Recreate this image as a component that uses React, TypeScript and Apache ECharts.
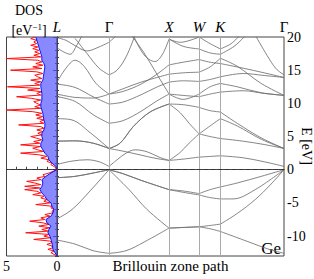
import React, { useEffect, useRef } from "react";
import * as echarts from "echarts";

// High-symmetry path (k distance) and labels
const kNodes = [0, 0.866, 1.866, 2.366, 2.72, 3.78];
const kNames = ["L", "Γ", "X", "W", "K", "Γ"];
const kItalic = [true, false, true, true, true, false];
const energyLabels = [-10, -5, 0, 5, 10, 15, 20];
const energyMin = -13;
const energyMax = 20;
const dosLabels = [0, 5];

// Bands: [k, E(eV)]
const valence1 = [[0, -10.6], [0.3, -11.2], [0.6, -12.2], [0.866, -12.6], [1.15, -12.2], [1.45, -10.9], [1.866, -8.8], [2.1, -8.7], [2.366, -8.6], [2.55, -8.9], [2.72, -9.3], [3.2, -10.9], [3.5, -11.9], [3.78, -12.6]];
const valence2 = [[0, -7.4], [0.25, -6.0], [0.55, -3.2], [0.866, 0], [1.2, -3.0], [1.5, -6.0], [1.866, -8.8], [2.1, -8.7], [2.366, -8.6], [2.55, -8.4], [2.72, -8.2], [3.0, -6.6], [3.3, -4.5], [3.55, -2.3], [3.78, 0]];
const valence3 = [[0, -1.2], [0.3, -1.0], [0.6, -0.5], [0.866, 0], [1.1, -0.6], [1.4, -1.6], [1.866, -3.0], [2.1, -3.4], [2.366, -3.8], [2.55, -4.2], [2.72, -4.4], [2.93, -4.4], [3.3, -3.0], [3.78, 0]];
const valence4 = [[0, -1.2], [0.3, -1.0], [0.6, -0.5], [0.866, 0], [1.1, -0.6], [1.4, -1.6], [1.866, -3.0], [2.1, -3.2], [2.366, -3.6], [2.55, -3.0], [2.72, -2.6], [3.0, -2.0], [3.4, -1.0], [3.78, 0]];
const conduction1 = [[0, 0.8], [0.25, 1.3], [0.5, 1.5], [0.7, 1.2], [0.866, 0.5], [1.0, 1.5], [1.15, 2.5], [1.3, 3.0], [1.5, 2.7], [1.7, 1.9], [1.866, 1.4], [2.1, 1.6], [2.366, 1.9], [2.72, 2.1], [3.1, 1.8], [3.45, 1.2], [3.78, 0.5]];
const conduction2 = [[0, 4.3], [0.3, 4.35], [0.6, 4.0], [0.866, 3.2], [1.1, 2.8], [1.4, 2.2], [1.65, 1.7], [1.866, 1.4], [2.05, 2.6], [2.2, 4.0], [2.366, 5.4], [2.55, 5.0], [2.72, 4.7], [3.1, 4.3], [3.45, 3.8], [3.78, 3.2]];
const conduction3 = [[0, 4.3], [0.3, 4.35], [0.6, 4.0], [0.866, 3.2], [1.05, 4.0], [1.27, 6.5], [1.55, 8.7], [1.866, 9.9], [2.05, 8.6], [2.2, 7.0], [2.366, 5.4], [2.55, 6.6], [2.72, 7.7], [3.0, 6.6], [3.4, 4.6], [3.78, 3.2]];
const conduction4 = [[0, 7.7], [0.25, 7.5], [0.55, 5.6], [0.866, 3.2], [1.05, 4.0], [1.27, 6.5], [1.55, 8.7], [1.866, 9.9], [2.1, 9.8], [2.366, 9.4], [2.55, 8.9], [2.72, 8.7], [3.0, 7.0], [3.4, 4.8], [3.78, 3.2]];
const conduction5 = [[0, 11.0], [0.3, 10.3], [0.6, 8.3], [0.866, 7.0], [1.1, 7.4], [1.4, 8.8], [1.65, 10.3], [1.866, 11.4], [2.1, 11.2], [2.366, 11.0], [2.55, 11.4], [2.72, 11.7], [3.1, 11.9], [3.45, 11.5], [3.78, 11.2]];
const conduction6 = [[0, 12.9], [0.3, 12.4], [0.6, 11.0], [0.866, 9.9], [1.1, 10.2], [1.4, 11.3], [1.65, 12.4], [1.866, 13.2], [2.1, 13.4], [2.366, 13.3], [2.55, 13.6], [2.72, 14.0], [3.1, 14.5], [3.45, 14.2], [3.78, 13.9]];
const conduction7 = [[0, 13.2], [0.15, 15.3], [0.3, 16.5], [0.45, 15.6], [0.65, 13.0], [0.866, 11.4], [1.1, 11.8], [1.4, 12.9], [1.65, 14.3], [1.866, 15.8], [2.1, 16.2], [2.366, 16.6], [2.55, 16.2], [2.72, 16.0], [3.1, 15.3], [3.45, 14.6], [3.78, 13.9]];
const conduction8 = [[0, 11.4], [0.3, 10.9], [0.6, 10.8], [0.866, 11.4], [1.1, 12.2], [1.4, 13.2], [1.866, 14.4], [2.1, 14.6], [2.366, 14.7], [2.55, 15.5], [2.72, 16.8], [3.0, 15.6], [3.4, 13.0], [3.78, 11.2]];
const conduction9 = [[0.3, 19.8], [0.5, 17.5], [0.7, 15.3], [0.866, 14.3], [1.0, 15.0], [1.15, 17.0], [1.3, 20.3], [3.3, 20.3], [3.5, 17.2], [3.65, 15.2], [3.78, 14.3]];
const conduction10 = [[1.27, 20.3], [1.45, 17.3], [1.63, 16.3], [1.75, 17.3], [1.866, 19.7], [2.1, 18.6], [2.366, 18.2], [2.55, 17.6], [2.72, 17.4], [2.95, 18.6], [3.15, 20.3]];
const conduction11 = [[1.22, 20.5], [1.45, 17.6], [1.65, 14.6], [1.866, 11.4], [2.1, 10.6], [2.366, 11.4], [2.55, 12.5], [2.72, 13.0], [3.0, 12.5], [3.4, 11.6], [3.78, 11.2]];
const conduction12 = [[0, 18.4], [0.1, 17.8], [0.22, 17.4], [0.32, 18.6], [0.42, 20.3]];
const conduction13 = [[0, 19.9], [0.15, 19.5], [0.3, 18.7], [0.5, 17.9], [0.7, 18.5], [0.866, 19.2], [1.0, 20.3]];
const conduction14 = [[1.866, 19.7], [2.05, 19.2], [2.366, 20.0], [2.55, 19.0], [2.72, 18.2], [2.9, 19.0], [3.05, 20.3]];

const bands = [
  valence1, valence2, valence3, valence4,
  conduction1, conduction2, conduction3, conduction4, conduction5, conduction6, conduction7,
  conduction8, conduction9, conduction10, conduction11, conduction12, conduction13, conduction14,
];

// Smoothed DOS (blue): [E, DOS]
const dosBlue = [
  [-13.0, 0], [-12.5, 0.2], [-12.0, 0.4], [-11.5, 0.45], [-11.0, 0.5], [-10.5, 0.6], [-10.0, 0.7], [-9.5, 0.9],
  [-9.0, 0.8], [-8.5, 0.6], [-8.0, 1.0], [-7.5, 1.1], [-7.0, 0.6], [-6.5, 0.4], [-6.0, 0.3], [-5.5, 0.5],
  [-5.0, 0.6], [-4.5, 1.0], [-4.0, 1.2], [-3.5, 1.5], [-3.0, 1.7], [-2.5, 1.5], [-2.0, 1.4], [-1.5, 1.5],
  [-1.0, 1.1], [-0.5, 0.6], [0.0, 0.05], [0.5, 0.1], [1.0, 0.5], [1.5, 0.8], [2.0, 0.9], [2.5, 1.2],
  [3.0, 1.4], [3.5, 1.6], [4.0, 1.6], [4.5, 1.4], [5.0, 1.5], [5.5, 1.5], [6.0, 1.3], [6.5, 1.2],
  [7.0, 1.2], [7.5, 1.3], [8.0, 1.35], [8.5, 1.4], [9.0, 1.5], [9.5, 1.6], [10.0, 1.6], [10.5, 1.5],
  [11.0, 1.5], [11.5, 1.5], [12.0, 1.55], [12.5, 1.6], [13.0, 1.6], [13.5, 1.4], [14.0, 1.35], [14.5, 1.3],
  [15.0, 1.25], [15.5, 1.2], [16.0, 1.3], [16.5, 1.5], [17.0, 1.5], [17.5, 1.6], [18.0, 1.7], [18.5, 1.8],
  [19.0, 1.9], [19.5, 2.0], [20.0, 2.1],
];

// Raw DOS (red), one value every 0.25 eV from -13 eV
const dosRedStart = -13;
const dosRedStep = 0.25;
const dosRed = [
  0, 0.3, 0.6, 0.3,
  0.9, 0.4, 0.5, 1.0,
  0.5, 0.7, 2.3, 0.6,
  1.3, 0.8, 3.1, 0.9,
  1.5, 0.7, 1.8, 0.8,
  1.4, 2.7, 1.2, 1.6,
  0.7, 1.2, 0.4, 0.5,
  0.3, 0.6, 0.5, 2.1,
  0.7, 1.3, 1.0, 1.6,
  1.3, 2.4, 1.6, 2.0,
  3.2, 1.7, 3.2, 1.6,
  2.2, 3.0, 1.6, 2.0,
  1.2, 1.4, 0.8, 0.4,
  0.05, 0.1, 0.3, 0.6,
  0.5, 1.0, 0.8, 1.6,
  1.0, 1.8, 3.6, 1.3,
  1.9, 2.4, 1.6, 3.6,
  1.7, 2.3, 1.5, 2.0,
  2.6, 1.5, 1.9, 1.4,
  2.0, 1.3, 1.6, 3.8,
  1.3, 1.7, 1.3, 2.0,
  1.4, 2.1, 1.5, 2.4,
  5.0, 1.6, 2.2, 1.6,
  2.0, 2.3, 1.6, 2.5,
  4.0, 1.6, 2.0, 1.5,
  2.9, 1.7, 4.9, 1.7,
  2.2, 1.6, 2.6, 1.5,
  1.9, 2.2, 1.4, 2.0,
  4.6, 1.5, 2.4, 1.4,
  2.1, 1.5, 1.9, 5.0,
  1.6, 2.3, 1.7, 2.2,
  1.8, 2.4, 1.9, 2.6,
  2.0, 2.3, 2.0, 2.6,
  2.2,
];

const SERIF = "'Liberation Serif', 'DejaVu Serif', 'Times New Roman', Times, serif";

export default function App() {
  const ref = useRef<HTMLDivElement>(null);
  useEffect(() => {
    if (!ref.current) return;
    const chart = echarts.init(ref.current, null, { renderer: "svg" });
    const frame = "#444";

    const bandSeries: any[] = [];
    bands.forEach((band) => {
      for (let s = 0; s < kNodes.length - 1; s++) {
        const a = kNodes[s];
        const b = kNodes[s + 1];
        const pts = band.filter((p) => p[0] >= a - 1e-9 && p[0] <= b + 1e-9);
        if (pts.length < 2) continue;
        bandSeries.push({
          type: "line",
          xAxisIndex: 1,
          yAxisIndex: 1,
          data: pts,
          smooth: 0.35,
          symbol: "none",
          showSymbol: false,
          silent: true,
          lineStyle: { color: "#6f6f6f", width: 0.85 },
          z: 3,
        });
      }
    });

    const redData = dosRed.map((v, i) => [v, dosRedStart + i * dosRedStep]);
    const blueData = dosBlue.map((p) => [p[1], p[0]]);
    const txt = { fontFamily: SERIF, fontSize: 14, color: "#000" };

    const option: any = {
      animation: false,
      textStyle: { fontFamily: SERIF },
      grid: [
        { left: 0, top: 37, width: 57, height: 219, show: true, borderColor: frame, borderWidth: 1, backgroundColor: "transparent" },
        { left: 57, top: 37, width: 227, height: 219, show: true, borderColor: frame, borderWidth: 1, backgroundColor: "transparent" },
      ],
      xAxis: [
        {
          type: "value", gridIndex: 0, min: 0, max: 5, interval: 1, inverse: true, position: "bottom",
          axisLine: { show: true, lineStyle: { color: frame } },
          axisTick: { show: true, inside: true, length: 3, lineStyle: { color: frame } },
          axisLabel: { show: true, customValues: dosLabels, ...txt, margin: 3, showMinLabel: true, showMaxLabel: true },
          splitLine: { show: false },
        },
        {
          type: "value", gridIndex: 1, min: 0, max: 3.78, position: "top",
          axisLine: { show: true, lineStyle: { color: frame } },
          axisTick: { show: false },
          axisLabel: {
            show: true, customValues: kNodes, margin: 3, showMinLabel: true, showMaxLabel: true, ...txt,
            formatter: (v: number) => {
              const i = kNodes.findIndex((k) => Math.abs(k - v) < 1e-6);
              if (i < 0) return "";
              return kItalic[i] ? `{i|${kNames[i]}}` : `{u|${kNames[i]}}`;
            },
            rich: {
              i: { fontFamily: SERIF, fontSize: 15, fontStyle: "italic", color: "#000" },
              u: { fontFamily: SERIF, fontSize: 15, color: "#000" },
            },
          },
          splitLine: { show: false },
        },
        {
          type: "value", gridIndex: 1, min: 0, max: 3.78, position: "bottom",
          axisLine: { show: true, lineStyle: { color: frame } },
          axisTick: { show: false }, axisLabel: { show: false }, splitLine: { show: false },
          name: "Brillouin zone path", nameLocation: "middle", nameGap: 2,
          nameTextStyle: { fontFamily: SERIF, fontSize: 15, color: "#000", verticalAlign: "top" },
        },
      ],
      yAxis: [
        {
          type: "value", gridIndex: 0, min: energyMin, max: energyMax, interval: 1, position: "left",
          axisLine: { show: true, lineStyle: { color: frame } },
          axisTick: { show: true, inside: true, length: 2, lineStyle: { color: frame } },
          axisLabel: { show: false }, splitLine: { show: false },
        },
        {
          type: "value", gridIndex: 1, min: energyMin, max: energyMax, interval: 1, position: "right",
          axisLine: { show: true, lineStyle: { color: frame } },
          axisTick: { show: true, inside: true, length: 2, lineStyle: { color: frame } },
          axisLabel: { show: false }, splitLine: { show: false },
        },
        {
          type: "value", gridIndex: 1, min: energyMin, max: energyMax, position: "right",
          axisLine: { show: false },
          axisTick: { show: true, inside: true, length: 4, customValues: energyLabels, lineStyle: { color: frame } },
          axisLabel: { show: true, customValues: energyLabels, ...txt, margin: 3, showMinLabel: true, showMaxLabel: true },
          splitLine: { show: false },
        },
      ],
      graphic: [
        { type: "text", x: 29, y: 10, style: { text: "DOS", fontFamily: SERIF, fontSize: 14, fill: "#000", textAlign: "center", textVerticalAlign: "middle" } },
        {
          type: "text", x: 29, y: 30,
          style: {
            text: "[eV{sup|−1}]", fontFamily: SERIF, fontSize: 14, fill: "#000", textAlign: "center", textVerticalAlign: "middle",
            rich: { sup: { fontFamily: SERIF, fontSize: 9, verticalAlign: "top", padding: [0, 0, 6, 0] } },
          },
        },
        { type: "text", x: 306, y: 146, rotation: -Math.PI / 2, style: { text: "E [eV]", fontFamily: SERIF, fontSize: 14, fill: "#000", textAlign: "center", textVerticalAlign: "middle" } },
        { type: "text", x: 281, y: 248, style: { text: "Ge", fontFamily: SERIF, fontSize: 17, fill: "#000", textAlign: "right", textVerticalAlign: "middle" } },
      ],
      series: [
        {
          type: "line", xAxisIndex: 0, yAxisIndex: 0, data: redData, symbol: "none", showSymbol: false, silent: true,
          lineStyle: { color: "#ff1010", width: 1 }, z: 2,
        },
        {
          type: "custom", xAxisIndex: 0, yAxisIndex: 0, data: blueData, silent: true, clip: true, z: 3,
          renderItem: (params: any, api: any) => {
            if (params.dataIndex !== 0) return null;
            const pts: number[][] = [api.coord([0, dosBlue[0][0]])];
            blueData.forEach((p) => pts.push(api.coord(p)));
            pts.push(api.coord([0, dosBlue[dosBlue.length - 1][0]]));
            return { type: "polygon", shape: { points: pts }, style: { fill: "rgba(80,80,255,0.68)" } };
          },
        },
        {
          type: "line", xAxisIndex: 0, yAxisIndex: 0, data: blueData, symbol: "none", showSymbol: false, silent: true,
          lineStyle: { color: "#1010ff", width: 1 }, z: 4,
          markLine: {
            silent: true, symbol: ["none", "none"], label: { show: false },
            lineStyle: { color: "#333", type: [4, 3], width: 1 },
            data: [{ yAxis: 0 }],
          },
        },
        {
          type: "line", xAxisIndex: 1, yAxisIndex: 1, data: [], symbol: "none", silent: true, z: 2,
          markLine: {
            silent: true, symbol: ["none", "none"], label: { show: false },
            lineStyle: { color: "#aaa", type: "solid", width: 1 },
            data: kNodes.slice(1, kNodes.length - 1).map((k) => ({ xAxis: k })),
          },
        },
        {
          type: "line", xAxisIndex: 1, yAxisIndex: 1, data: [], symbol: "none", silent: true, z: 4,
          markLine: {
            silent: true, symbol: ["none", "none"], label: { show: false },
            lineStyle: { color: "#333", type: [4, 3], width: 1 },
            data: [{ yAxis: 0 }],
          },
        },
        ...bandSeries,
      ],
    };
    chart.setOption(option);
    return () => chart.dispose();
  }, []);
  return <div ref={ref} style={{ position: "absolute", left: 0, top: 0, width: 314, height: 279 }} />;
}
